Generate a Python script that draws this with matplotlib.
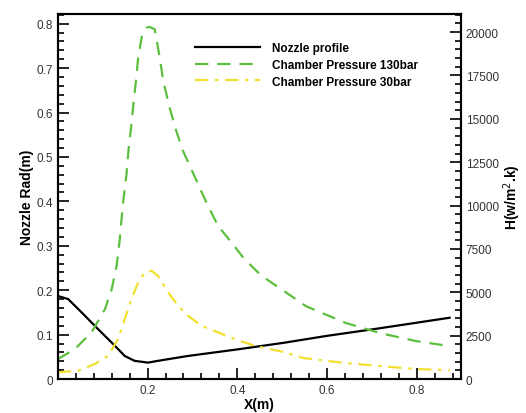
import numpy as np
import matplotlib.pyplot as plt
from matplotlib.ticker import MultipleLocator

plt.rcParams['font.family'] = ['Liberation Sans', 'DejaVu Sans']

# nozzle profile (left axis)
x_noz = [0.0, 0.023, 0.053, 0.09, 0.127, 0.149, 0.171, 0.201, 0.223, 0.29, 0.402, 0.506,
         0.598, 0.702, 0.873]
r_noz = [0.187, 0.18, 0.15, 0.112, 0.075, 0.052, 0.041, 0.037, 0.041, 0.052, 0.067, 0.082,
         0.097, 0.112, 0.138]

# heat transfer coefficient, 130 bar (right axis)
x_130 = [0.0, 0.038, 0.075, 0.105, 0.12, 0.131, 0.138, 0.145, 0.153, 0.158, 0.164, 0.169,
         0.174, 0.179, 0.188, 0.197, 0.205, 0.216, 0.227, 0.235, 0.249, 0.264, 0.279, 0.331,
         0.357, 0.387, 0.416, 0.454, 0.498, 0.553, 0.642, 0.718, 0.798, 0.873]
h_130 = [1150, 1730, 2690, 4030, 5180, 6530, 8060, 10100, 11810, 13350, 14690, 16030,
         17180, 18530, 19870, 20250, 20300, 20160, 18530, 17180, 15650, 14300, 13150, 10180,
         8830, 7870, 6910, 5950, 5180, 4200, 3230, 2650, 2190, 1900]

# heat transfer coefficient, 30 bar (right axis)
x_30 = [0.0, 0.045, 0.082, 0.112, 0.134, 0.149, 0.164, 0.179, 0.194, 0.209, 0.223, 0.246,
        0.268, 0.29, 0.32, 0.357, 0.394, 0.439, 0.506, 0.547, 0.642, 0.718, 0.798, 0.873]
h_30 = [390, 480, 860, 1340, 2300, 3460, 4610, 5570, 6150, 6240, 5950, 4990,
        4220, 3650, 3070, 2690, 2300, 1920, 1540, 1210, 920, 750, 575, 520]

fig = plt.figure(figsize=(5.26, 4.14), dpi=100)
ax = fig.add_axes([0.110, 0.082, 0.766, 0.882])
ax2 = ax.twinx()

l1, = ax.plot(x_noz, r_noz, color='black', lw=1.6, label='Nozzle profile')
l2, = ax2.plot(x_130, h_130, color='#5cbf3e', lw=1.6, ls=(0, (6, 4)), label='Chamber Pressure 130bar')
l3, = ax2.plot(x_30, h_30, color='#f2e030', lw=1.6, ls=(0, (6, 3, 1.5, 3)), label='Chamber Pressure 30bar')

ax.set_xlim(0, 0.898)
ax.set_ylim(0, 0.822)
ax2.set_ylim(0, 21050)

ax.set_xticks([0.2, 0.4, 0.6, 0.8])
ax.xaxis.set_minor_locator(MultipleLocator(0.04))
ax.yaxis.set_major_locator(MultipleLocator(0.1))
ax.yaxis.set_minor_locator(MultipleLocator(0.02))
ax2.yaxis.set_major_locator(MultipleLocator(2500))
ax2.yaxis.set_minor_locator(MultipleLocator(500))

for a in (ax, ax2):
    a.tick_params(which='both', direction='in', width=1.2, colors='black', labelcolor='#333333',
                  labelsize=8.5, top=False)
    a.tick_params(which='major', length=8)
    a.tick_params(which='minor', length=4)
    for s in a.spines.values():
        s.set_linewidth(1.5)
ax.yaxis.set_major_formatter(plt.FuncFormatter(lambda v, p: '0' if v == 0 else f'{v:.1f}'))

ax.set_xlabel('X(m)', fontsize=10, fontweight='bold', labelpad=1)
ax.set_ylabel('Nozzle Rad(m)', fontsize=10, fontweight='bold', labelpad=2)
ax2.set_ylabel('H(w/m$^2$.k)', fontsize=10, fontweight='bold', labelpad=2)

leg = ax.legend(handles=[l1, l2, l3], loc='upper left', bbox_to_anchor=(0.315, 0.952),
                frameon=False, handlelength=5.5, handletextpad=1.0,
                labelspacing=0.4, prop={'weight': 'bold', 'size': 8.5})

plt.savefig('out.png', dpi=100)
